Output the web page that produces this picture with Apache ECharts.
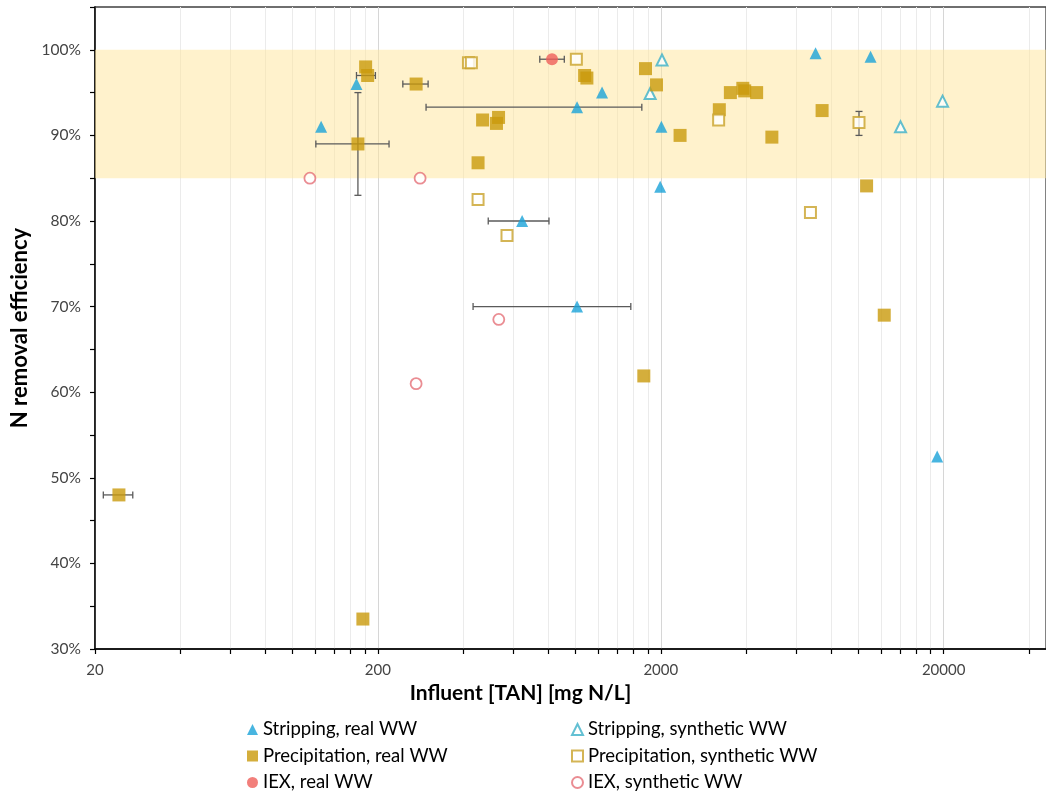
<!DOCTYPE html>
<html><head><meta charset="utf-8">
<script src="https://cdn.jsdelivr.net/npm/echarts@6/dist/echarts.min.js"></script>
<style>html,body{margin:0;padding:0;background:#fff}#c{width:1046px;height:792px}</style>
</head><body><div id="c"></div>
<script>
// ---- data (x: influent TAN mg N/L, y: N removal efficiency fraction)
const stripReal = [[126,0.91],[168,0.96],[1012,0.933],[1240,0.95],[2010,0.91],[1990,0.84],[647,0.80],[1012,0.70],[18970,0.525],[7050,0.996],[11030,0.992]];
const stripSyn = [[2020,0.988],[1834,0.949],[19820,0.94],[14080,0.91]];
const precipReal = [[24.3,0.48],[177,0.335],[181,0.98],[184,0.97],[170,0.89],[273,0.96],[469,0.918],[534,0.921],[525,0.914],[452,0.868],[1076,0.97],[1096,0.967],[1766,0.978],[1932,0.959],[2340,0.90],[1742,0.619],[12330,0.69],[10680,0.841],[3221,0.93],[3524,0.95],[3900,0.955],[3960,0.952],[4364,0.95],[4940,0.898],[7435,0.929]];
const precipSyn = [[418,0.985],[428,0.985],[1006,0.989],[452,0.825],[572,0.783],[3203,0.918],[6762,0.81],[10040,0.915]];
const iexReal = [[825,0.989]];
const iexSyn = [[115,0.85],[282,0.85],[273,0.61],[535,0.685]];
// error bars: [x, y, low, high]
const xErrorBars = [[24.3,0.48,21.4,27.2],[170,0.89,120.7,219],[184,0.97,168,196],[273,0.96,245,301],[1012,0.933,296,1714],[647,0.80,491,805],[1012,0.70,434,1567],[825,0.989,747,912]];
const yErrorBars = [[170,0.89,0.83,0.95],[10040,0.915,0.90,0.928]];
// axes
const xLabelValues = [20,200,2000,20000];
const xTickValues = [20,40,60,80,100,120,140,160,180,200,400,600,800,1000,1200,1400,1600,1800,2000,4000,6000,8000,10000,12000,14000,16000,18000,20000,40000];
const yLabelValues = [0.3,0.4,0.5,0.6,0.7,0.8,0.9,1.0];
const band = [0.85, 1.0];
const seriesNames = ['Stripping, real WW','Stripping, synthetic WW','Precipitation, real WW','Precipitation, synthetic WW','IEX, real WW','IEX, synthetic WW'];

const FONT = 'Lato';
const BLUE = '#1aa3d8', BLUE2 = '#3cb0c8', GOLD = '#c99a0b', GOLD2 = '#c9a32a', RED = '#ef5f5a', RED2 = '#e57178';

function errRender(horizontal){
  return function(params, api){
    const x = api.value(0), y = api.value(1), lo = api.value(2), hi = api.value(3);
    const a = horizontal ? api.coord([lo, y]) : api.coord([x, lo]);
    const b = horizontal ? api.coord([hi, y]) : api.coord([x, hi]);
    const style = {stroke:'#5a5a5a', lineWidth:1.3};
    const c = 3.5;
    const lines = horizontal ? [
      [a[0],a[1],b[0],b[1]],[a[0],a[1]-c,a[0],a[1]+c],[b[0],b[1]-c,b[0],b[1]+c]
    ] : [
      [a[0],a[1],b[0],b[1]],[a[0]-c,a[1],a[0]+c,a[1]],[b[0]-c,b[1],b[0]+c,b[1]]
    ];
    return {type:'group', children: lines.map(l => ({type:'line', shape:{x1:l[0],y1:l[1],x2:l[2],y2:l[3]}, style}))};
  };
}

const chart = echarts.init(document.getElementById('c'), null, {renderer:'canvas'});
const minorC = '#ebebeb', majorC = '#d6d6d6';
const legendText = {fontFamily:FONT, fontSize:18.5, color:'#000', lineHeight:18};
chart.setOption({
  animation:false,
  backgroundColor:'#fff',
  grid:{left:95, right:-2, top:7, bottom:143, show:true, borderColor:'#404040', borderWidth:1.3, backgroundColor:'transparent'},
  xAxis:{type:'log', logBase:10, min:20, max:46000,
    name:'Influent [TAN] [mg N/L]', nameLocation:'middle', nameGap:27,
    nameTextStyle:{fontFamily:FONT, fontSize:21, fontWeight:'bold', color:'#000', padding:[0,100,0,0]},
    axisLine:{show:true, lineStyle:{color:'#000', width:1.5}},
    axisTick:{show:true, customValues:xTickValues, length:5, lineStyle:{color:'#000', width:1.2}},
    axisLabel:{customValues:xLabelValues, formatter:v=>String(Math.round(v)), fontFamily:FONT, fontSize:15, color:'#444', margin:14},
    splitLine:{show:true, lineStyle:{color:[majorC,minorC,minorC,minorC,minorC,minorC,minorC,minorC,minorC], width:1}}
  },
  yAxis:{type:'value', min:0.3, max:1.05, interval:0.05,
    name:'N removal efficiency', nameLocation:'middle', nameGap:57,
    nameTextStyle:{fontFamily:FONT, fontSize:22, fontWeight:'bold', color:'#000'},
    axisLine:{show:true, lineStyle:{color:'#000', width:1.5}},
    axisTick:{show:true, length:5, lineStyle:{color:'#000', width:1.2}},
    axisLabel:{customValues:yLabelValues, formatter:v=>Math.round(v*100)+'%', fontFamily:FONT, fontSize:15.5, color:'#444', margin:14},
    splitLine:{show:false}
  },
  legend:[
    {left:247, top:720, height:120, width:300, padding:0, orient:'vertical', itemGap:7.5, itemWidth:11, itemHeight:11,
     data:[seriesNames[0],seriesNames[2],seriesNames[4]], textStyle:legendText},
    {left:571, top:720, height:120, width:300, padding:0, orient:'vertical', itemGap:7.5, itemWidth:11, itemHeight:11,
     data:[seriesNames[1],seriesNames[3],seriesNames[5]], textStyle:legendText}
  ],
  series:[
    {type:'custom', name:'xerr', renderItem:errRender(true), data:xErrorBars, encode:{x:0,y:1}, z:3, silent:true,
     markArea:{silent:true, itemStyle:{color:'rgba(255,230,153,0.5)'}, data:[[{xAxis:20, yAxis:band[0]},{xAxis:46000, yAxis:band[1]}]]}},
    {type:'custom', name:'yerr', renderItem:errRender(false), data:yErrorBars, encode:{x:0,y:1}, z:3, silent:true},
    {type:'scatter', name:seriesNames[0], data:stripReal, symbol:'triangle', symbolSize:12, itemStyle:{color:BLUE}, z:5},
    {type:'scatter', name:seriesNames[1], data:stripSyn, symbol:'triangle', symbolSize:11, itemStyle:{color:'#fff', borderColor:BLUE2, borderWidth:2}, z:5},
    {type:'scatter', name:seriesNames[2], data:precipReal, symbol:'rect', symbolSize:13, itemStyle:{color:GOLD}, z:5},
    {type:'scatter', name:seriesNames[3], data:precipSyn, symbol:'rect', symbolSize:11, itemStyle:{color:'#fff', borderColor:GOLD2, borderWidth:2}, z:5},
    {type:'scatter', name:seriesNames[4], data:iexReal, symbol:'circle', symbolSize:12, itemStyle:{color:RED}, z:5},
    {type:'scatter', name:seriesNames[5], data:iexSyn, symbol:'circle', symbolSize:11, itemStyle:{color:'#fff', borderColor:RED2, borderWidth:1.8}, z:5}
  ]
});
</script></body></html>
